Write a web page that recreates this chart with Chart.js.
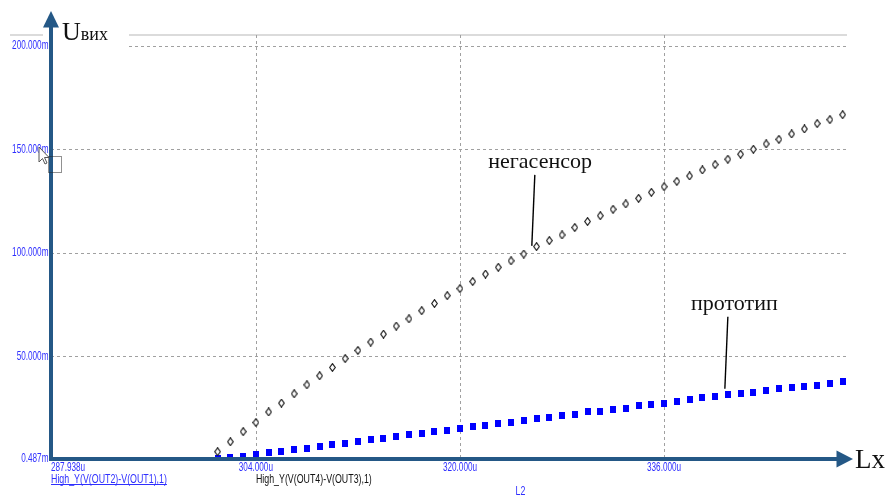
<!DOCTYPE html>
<html><head><meta charset="utf-8">
<script src="https://cdn.jsdelivr.net/npm/chart.js@4/dist/chart.umd.min.js"></script>
<style>html,body{margin:0;padding:0;background:#fff;overflow:hidden}#wrap{width:885px;height:495px;position:relative}</style>
</head><body><div id="wrap"><canvas id="c" width="885" height="495"></canvas></div>
<script>
// ---- data (x in µH, y in mV) ----
const inductance = [301,302,303,304,305,306,307,308,309,310,311,312,313,314,315,316,317,318,319,320,
  321,322,323,324,325,326,327,328,329,330,331,332,333,334,335,336,337,338,339,340,
  341,342,343,344,345,346,347,348,349,350];
const negasensor = [4.0,8.8,13.7,18.1,23.2,27.5,32.0,36.3,40.7,44.7,49.0,52.9,57.0,60.8,64.7,68.2,72.1,75.6,79.4,82.8,
  86.2,89.8,93.1,96.2,99.5,103.1,106.0,108.7,112.3,115.2,118.0,121.1,123.7,126.4,129.3,132.0,134.6,137.2,140.1,142.7,
  145.3,147.7,150.1,152.7,154.9,157.5,159.9,162.5,164.4,166.8];
const prototype = [0.6,1.4,1.9,2.7,3.4,4.0,5.0,5.5,6.4,7.4,8.0,8.8,9.8,10.4,11.2,12.2,12.7,13.7,14.3,15.3,
  16.2,16.7,17.7,18.1,19.1,20.1,20.6,21.5,22.2,23.2,23.6,24.6,25.1,26.1,27.0,27.5,28.5,29.3,30.2,30.9,
  31.5,32.0,32.8,33.6,34.4,34.9,35.4,36.2,36.8,37.8];
const yTickValues = [0.487,50,100,150,200];
const yTickLabels = ['0.487m','50.000m','100.000m','150.000m','200.000m'];
const xTickValues = [287.938,304,320,336];
const xTickLabels = ['287.938u','304.000u','320.000u','336.000u'];
const xRange = [287.938,350.34];
const yRange = [0.487,205.3];
const yTitleMain = 'U', yTitleSub = 'вих';
const xTitle = 'Lx';
const seriesNames = ['негасенсор','прототип'];
const annotateIndex = [25,40];
const traceLabels = ['High_Y(V(OUT2)-V(OUT1),1)','High_Y(V(OUT4)-V(OUT3),1)'];
const sweepLabel = 'L2';

// ---- point glyphs ----
function diamondGlyph(){
  const c=document.createElement('canvas'); c.width=7; c.height=9;
  const g=c.getContext('2d');
  g.beginPath(); g.moveTo(3.5,0.7); g.lineTo(6.3,4.5); g.lineTo(3.5,8.3); g.lineTo(0.7,4.5); g.closePath();
  g.fillStyle='#fff'; g.fill(); g.strokeStyle='#1a1a1a'; g.lineWidth=1.2; g.stroke();
  return c;
}
function squareGlyph(){
  const c=document.createElement('canvas'); c.width=6; c.height=7;
  const g=c.getContext('2d'); g.fillStyle='#0000ff'; g.fillRect(0,0,6,7);
  return c;
}
const toXY=(ys)=>inductance.map((x,i)=>({x:x,y:ys[i]}));

const AXIS='#245886', TICK='#2f2fff', GRID='#a0a0a0';
function scaledText(ctx,text,x,y,sx,align){
  const w=ctx.measureText(text).width;
  ctx.save(); ctx.translate(x,y); ctx.scale(sx,1); ctx.textAlign='left';
  const ox = align==='right'?-w:(align==='center'?-w/2:0);
  ctx.fillText(text,ox,0); ctx.restore();
  return w*sx;
}

const deco={
  id:'deco',
  beforeDatasetsDraw(chart){
    const {ctx,chartArea:a,scales:{x,y}}=chart;
    ctx.save();
    ctx.strokeStyle='#cfcfcf'; ctx.lineWidth=1.5;
    ctx.beginPath(); ctx.moveTo(10,a.top); ctx.lineTo(a.right,a.top); ctx.stroke();
    ctx.strokeStyle=GRID; ctx.lineWidth=1; ctx.setLineDash([3,3]);
    yTickValues.slice(1).forEach(v=>{const py=Math.round(y.getPixelForValue(v))+0.5;
      ctx.beginPath(); ctx.moveTo(a.left,py); ctx.lineTo(a.right,py); ctx.stroke();});
    xTickValues.slice(1).forEach(v=>{const px=Math.round(x.getPixelForValue(v))+0.5;
      ctx.beginPath(); ctx.moveTo(px,a.top); ctx.lineTo(px,a.bottom); ctx.stroke();});
    ctx.setLineDash([]);
    ctx.fillStyle='#fff'; ctx.fillRect(43,14,86,40);
    ctx.restore();
  },
  afterDatasetsDraw(chart){
    const {ctx,chartArea:a,scales:{x,y}}=chart;
    ctx.save();
    // axes
    ctx.strokeStyle=AXIS; ctx.fillStyle=AXIS; ctx.lineWidth=4;
    ctx.beginPath(); ctx.moveTo(a.left,a.bottom+2); ctx.lineTo(a.left,26); ctx.stroke();
    ctx.beginPath(); ctx.moveTo(a.left-8,27.5); ctx.lineTo(a.left+8,27.5); ctx.lineTo(a.left,11); ctx.closePath(); ctx.fill();
    ctx.beginPath(); ctx.moveTo(a.left-2,a.bottom); ctx.lineTo(838,a.bottom); ctx.stroke();
    ctx.beginPath(); ctx.moveTo(836.5,a.bottom-8.5); ctx.lineTo(836.5,a.bottom+8.5); ctx.lineTo(853,a.bottom); ctx.closePath(); ctx.fill();

    // tick labels
    ctx.fillStyle=TICK; ctx.font='13px "Liberation Sans", Arial, sans-serif'; ctx.textBaseline='middle';
    yTickValues.forEach((v,i)=>{ scaledText(ctx,yTickLabels[i],48.5,y.getPixelForValue(v)-0.5,0.63,'right'); });
    xTickValues.forEach((v,i)=>{ const px=x.getPixelForValue(v);
      scaledText(ctx,xTickLabels[i], px, 467, 0.63, i===0?'left':'center'); });

    // trace labels
    ctx.font='13px "Liberation Sans", Arial, sans-serif';
    ctx.fillStyle=TICK;
    const w0=scaledText(ctx,traceLabels[0],51,479,0.68,'left');
    ctx.strokeStyle=TICK; ctx.lineWidth=1; ctx.beginPath(); ctx.moveTo(51,484.5); ctx.lineTo(51+w0,484.5); ctx.stroke();
    ctx.fillStyle='#111';
    scaledText(ctx,traceLabels[1],x.getPixelForValue(xTickValues[1]),479,0.68,'left');
    ctx.fillStyle=TICK;
    scaledText(ctx,sweepLabel,520.5,491,0.68,'center');

    // axis titles
    ctx.fillStyle='#111'; ctx.textBaseline='alphabetic'; ctx.textAlign='left';
    ctx.font='26px "Liberation Serif", "Times New Roman", serif';
    ctx.fillText(yTitleMain,62,40);
    const uw=ctx.measureText(yTitleMain).width;
    ctx.font='18px "Liberation Serif", "Times New Roman", serif';
    ctx.fillText(yTitleSub,62+uw,40);
    ctx.font='27px "Liberation Serif", "Times New Roman", serif';
    ctx.fillText(xTitle,855,468);

    // series annotations
    const meta0=chart.getDatasetMeta(0).data[annotateIndex[0]];
    const meta1=chart.getDatasetMeta(1).data[annotateIndex[1]];
    ctx.font='22px "Liberation Serif", "Times New Roman", serif'; ctx.textAlign='center';
    ctx.strokeStyle='#000'; ctx.lineWidth=1.4;
    ctx.beginPath(); ctx.moveTo(meta0.x-1.7,meta0.y-71.7); ctx.lineTo(meta0.x-4.7,meta0.y-0.7); ctx.stroke();
    ctx.fillText(seriesNames[0],meta0.x+3.6,meta0.y-78.4);
    ctx.beginPath(); ctx.moveTo(meta1.x,meta1.y-78); ctx.lineTo(meta1.x-3,meta1.y-6); ctx.stroke();
    ctx.fillText(seriesNames[1],meta1.x+6.5,meta1.y-85);

    // mouse cursor and dotted box
    ctx.setLineDash([1,1]); ctx.strokeStyle='#222'; ctx.lineWidth=1;
    ctx.strokeRect(48.5,156.5,13,16);
    ctx.setLineDash([]);
    const tx=39,ty=147;
    ctx.beginPath(); ctx.moveTo(tx,ty); ctx.lineTo(tx,ty+15); ctx.lineTo(tx+3.5,ty+11.5); ctx.lineTo(tx+6,ty+17);
    ctx.lineTo(tx+8,ty+16); ctx.lineTo(tx+5.5,ty+10.5); ctx.lineTo(tx+10,ty+10.5); ctx.closePath();
    ctx.fillStyle='#fff'; ctx.fill(); ctx.strokeStyle='#555'; ctx.stroke();
    ctx.restore();
  }
};

new Chart(document.getElementById('c'),{
  type:'scatter',
  data:{datasets:[
    {label:seriesNames[0],data:toXY(negasensor),pointStyle:diamondGlyph(),showLine:false},
    {label:seriesNames[1],data:toXY(prototype),pointStyle:squareGlyph(),showLine:false}
  ]},
  options:{
    responsive:false,animation:false,devicePixelRatio:1,
    layout:{padding:{left:51,right:38,top:35,bottom:36}},
    scales:{
      x:{type:'linear',min:xRange[0],max:xRange[1],display:false},
      y:{type:'linear',min:yRange[0],max:yRange[1],display:false}
    },
    plugins:{legend:{display:false},tooltip:{enabled:false}},
    elements:{point:{radius:4,hoverRadius:4}}
  },
  plugins:[deco]
});
</script></body></html>
